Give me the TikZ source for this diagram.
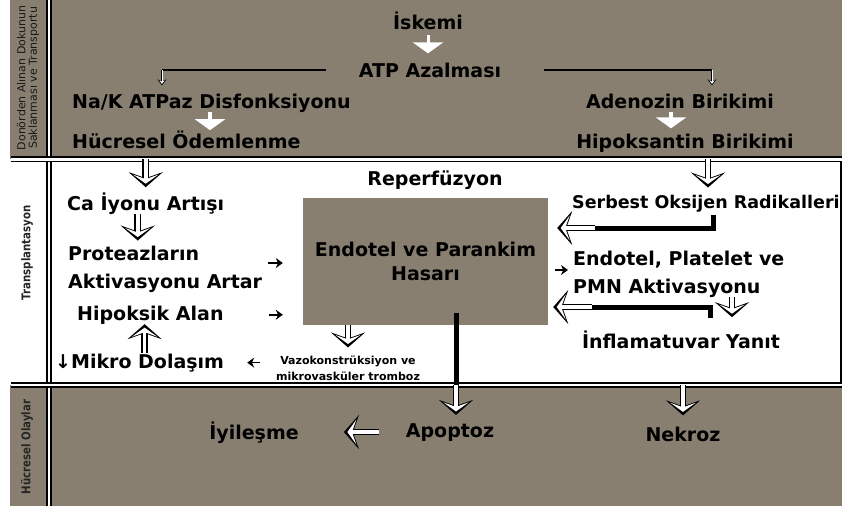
\documentclass[tikz,border=0pt]{standalone}
\usepackage{fontspec}
\setmainfont{DejaVu Sans}
\newfontfamily\sideFont[FakeStretch=0.85]{DejaVu Sans}
\usetikzlibrary{arrows.meta}

\definecolor{bandBrown}{RGB}{136,127,112}

\tikzstyle{bandText}=[font=\fontsize{19}{23}\selectfont\bfseries, inner sep=0pt]
\tikzstyle{sideLabel}=[font=\sideFont\fontsize{12}{11}\selectfont\bfseries, text=black!85, rotate=90, inner sep=0pt, align=center]
\tikzstyle{separator}=[line width=1.8pt, double=white, double distance=2pt]
\tikzstyle{whiteArrow}=[draw=white, line width=4pt, -{Triangle[length=11pt,width=30pt]}]
\tikzstyle{tinyArrow}=[line width=2.6pt, -{Stealth[length=6pt,width=9pt,inset=2pt]}, postaction={draw=white, line width=1pt, shorten >=1.5pt, -{Stealth[length=3.4pt,width=5pt,inset=1.2pt]}}]
\tikzstyle{hollowArrow}=[line width=6.5pt, -{Stealth[length=15pt,width=34pt,inset=6pt]}, postaction={draw=white, line width=3.6pt, shorten >=3.5pt, -{Stealth[length=9pt,width=25pt,inset=4.5pt]}}]
\tikzstyle{thickLine}=[line width=5pt]
\tikzstyle{smallArrow}=[line width=1.6pt, -{Stealth[length=7pt,width=10pt]}]

\begin{document}
\begin{tikzpicture}[x=1pt,y=-1pt]
		\useasboundingbox (0,0) rectangle (842,506);
		\fill[bandBrown] (10,0) rectangle (842,159);
		\fill[bandBrown] (10,385) rectangle (842,506);
		\draw[line width=1.5pt] (841,159) -- (841,385);
		\draw[separator] (49,0) -- (49,506);
		\draw[separator, line width=1.5pt, double distance=3pt] (11,159) -- (842,159);
		\draw[separator, line width=2pt, double distance=1.5pt] (11,385) -- (842,385);
		\coordinate (topSep) at (11,159);
		\coordinate (lowSep) at (11,385);
		
		\node[sideLabel, font=\fontsize{11}{11.5}\selectfont, text=black!90] (donorLabel) at (28,78) {Donörden Alınan Dokunun\\Saklanması ve Transportu};
		\node[sideLabel] (txLabel) at (27,253) {Transplantasyon};
		\node[sideLabel] (cellLabel) at (27,447) {Hücresel Olaylar};
		
		\node[bandText, anchor=base] (iskemi) at (428,29) {İskemi};
		\node[bandText, anchor=base] (atp) at (430,77) {ATP Azalması};
		\node[bandText, anchor=base west] (nak) at (72,108) {Na/K ATPaz Disfonksiyonu};
		\node[bandText, anchor=base west] (odem) at (72,148) {Hücresel Ödemlenme};
		\node[bandText, anchor=base] (adenozin) at (680,108) {Adenozin Birikimi};
		\node[bandText, anchor=base] (hipoks) at (685,148) {Hipoksantin Birikimi};
		
		\node[bandText, anchor=base] (reperf) at (435,185) {Reperfüzyon};
		\node[bandText, anchor=base west] (caIon) at (67,210) {Ca İyonu Artışı};
		\node[bandText, anchor=west, align=left, font=\fontsize{19}{28}\selectfont\bfseries] (proteaz) at (68,269) {Proteazların\\Aktivasyonu Artar};
		\node[bandText, anchor=base west] (hipoksik) at (77,320) {Hipoksik Alan};
		\node[bandText, anchor=base west] (mikro) at (55,368) {↓Mikro Dolaşım};
		\node[inner sep=0pt, align=center, font=\fontsize{11}{16}\selectfont\bfseries] (vazo) at (348,368) {Vazokonstrüksiyon ve\\mikrovasküler tromboz};
		\node[fill=bandBrown, minimum width=245pt, minimum height=127pt, inner sep=0pt, align=center, font=\fontsize{19}{24}\selectfont\bfseries] (hasar) at (425.5,261.5) {Endotel ve Parankim\\Hasarı};
		\node[bandText, anchor=base west, font=\fontsize{17.5}{21}\selectfont\bfseries] (serbest) at (572,208) {Serbest Oksijen Radikalleri};
		\node[bandText, anchor=west, align=left, font=\fontsize{19}{28}\selectfont\bfseries] (endAkt) at (573,274) {Endotel, Platelet ve\\PMN Aktivasyonu};
		\node[bandText, anchor=base] (inflam) at (681,348) {İnflamatuvar Yanıt};
		
		\node[bandText, anchor=base] (iyiles) at (254,439) {İyileşme};
		\node[bandText, anchor=base] (apoptoz) at (450,437) {Apoptoz};
		\node[bandText, anchor=base] (nekroz) at (683,441) {Nekroz};
		
		\coordinate (atpLeft) at (162,0);
		\coordinate (atpRight) at (712,0);
		\draw[whiteArrow, line width=3pt, shorten <=6pt, shorten >=9pt] (iskemi.south) -- (iskemi.south |- atp.north);
		\draw[line width=1.3pt, shorten <=33pt] (atp.west) -- (atp.west -| atpLeft);
		\draw[line width=1.3pt, shorten <=43pt] (atp.east) -- (atp.east -| atpRight);
		\draw[tinyArrow] (atp.west -| atpLeft) -- ([yshift=8pt]nak.north -| atpLeft);
		\draw[tinyArrow] (atp.east -| atpRight) -- ([yshift=8pt]adenozin.north -| atpRight);
		\draw[whiteArrow] ([xshift=138pt]nak.south west) -- ([xshift=138pt]nak.south west |- odem.north);
		\draw[whiteArrow, shorten <=4pt, shorten >=5pt] ([xshift=-9pt]adenozin.south) -- ([xshift=-9pt]adenozin.south |- hipoks.north);
		
		\draw[hollowArrow] (caIon.north |- topSep) -- ([yshift=5pt]caIon.north);
		\draw[hollowArrow] ([xshift=23pt]hipoks.south |- topSep) -- ([xshift=23pt,yshift=7pt]hipoks.south |- serbest.north);
		\draw[hollowArrow] ([xshift=-8pt]caIon.south) -- ([xshift=-8pt,yshift=5pt]caIon.south |- proteaz.north);
		\draw[hollowArrow] ([xshift=5pt]mikro.north) -- ([xshift=5pt]mikro.north |- hipoksik.south);
		\draw[smallArrow, shorten <=6pt, shorten >=20pt] ([yshift=6pt]proteaz.east) -- ([yshift=6pt]proteaz.east -| hasar.west);
		\draw[smallArrow, shorten <=45pt, shorten >=20pt] (hipoksik.east) -- (hipoksik.east -| hasar.west);
		\draw[smallArrow, shorten <=16pt, shorten >=23pt] (vazo.west |- mikro.east) -- (mikro.east);
		\draw[smallArrow, shorten <=7pt, shorten >=5pt] ([yshift=4pt]endAkt.west -| hasar.east) -- ([yshift=4pt]endAkt.west);
		\draw[hollowArrow] (hasar.south -| vazo.north) -- ([yshift=8pt]vazo.north);
		
		\coordinate (serCorner) at (713,228);
		\coordinate (serTail) at (595,228);
		\draw[thickLine, shorten <=3pt] (serCorner |- serbest.south) -- (serCorner) -- (serTail);
		\draw[hollowArrow] (serTail) -- ([xshift=9pt]serTail -| hasar.east);
		\coordinate (infCorner) at (710,307);
		\coordinate (infTail) at (592,307);
		\draw[thickLine, shorten <=12pt] (infCorner |- inflam.north) -- (infCorner) -- (infTail);
		\draw[hollowArrow] (infTail) -- ([xshift=5pt]infTail -| hasar.east);
		\draw[hollowArrow] ([xshift=51pt]inflam.north |- endAkt.south) -- ([xshift=51pt,yshift=13pt]inflam.north);
		
		\coordinate (hasarDrop) at (456,0);
		\draw[thickLine, shorten <=-12pt] (hasar.south -| hasarDrop) -- (lowSep -| hasarDrop);
		\draw[hollowArrow] (lowSep -| hasarDrop) -- ([yshift=8pt]apoptoz.north -| hasarDrop);
		\draw[hollowArrow] (lowSep -| nekroz.north) -- ([yshift=11pt]nekroz.north);
		\draw[hollowArrow, shorten <=27pt] (apoptoz.west) -- ([xshift=45pt]iyiles.east |- apoptoz.west);
\end{tikzpicture}
\end{document}
